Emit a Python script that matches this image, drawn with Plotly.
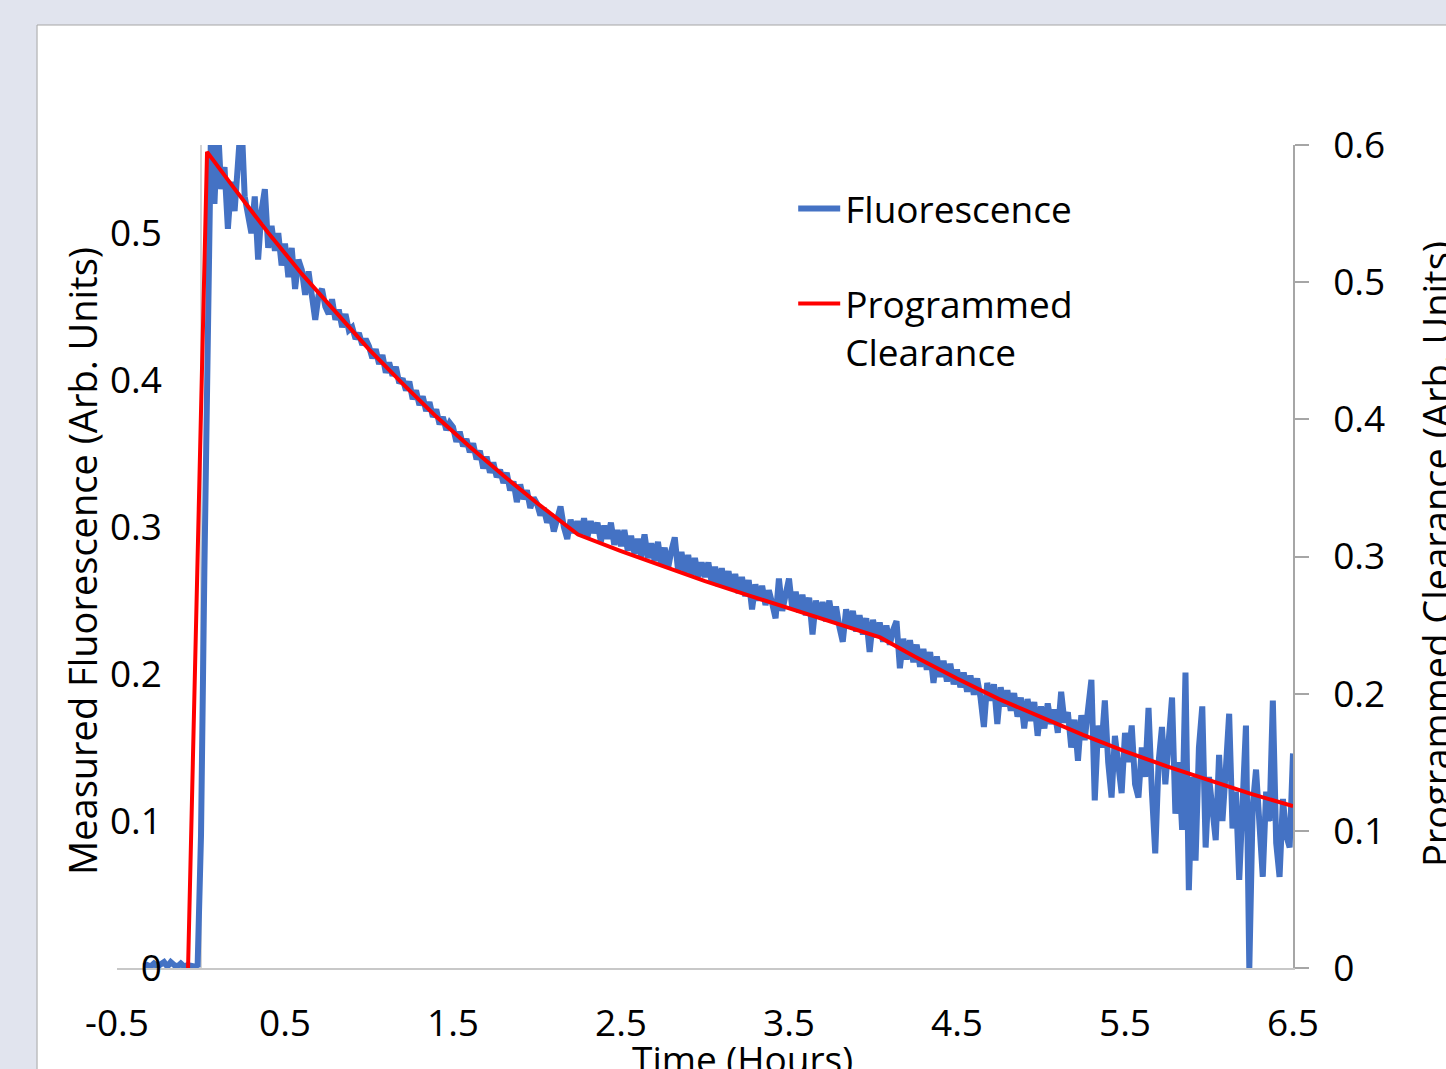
import plotly.graph_objects as go

# ---------------- data ----------------
SAMPLE_STEP_H = 0.02  # instrument sampling interval (hours)

FLUOR_SEGMENT_STARTS = [-0.34, 0.00, 0.50, 1.00, 1.50, 2.00, 2.50, 3.00, 3.50, 4.00, 4.50, 5.00, 5.50, 6.00]

FLUOR_SEG_00 = [0.001, 0.002, 0.001, 0.003, 0.001, 0.002, 0.004, 0.001, 0.004, 0.002, 0.001, 0.003, 0.001,
                0.002, 0.001, 0.001, 0.002]
FLUOR_SEG_01 = [0.09, 0.27, 0.40, 0.575, 0.52, 0.575, 0.53, 0.545, 0.503, 0.535, 0.515, 0.545, 0.58, 0.525,
                0.51, 0.50, 0.525, 0.482, 0.515, 0.53, 0.49, 0.505, 0.488, 0.50, 0.478]
FLUOR_SEG_02 = [0.493, 0.47, 0.49, 0.462, 0.482, 0.475, 0.458, 0.474, 0.46, 0.441, 0.458, 0.462, 0.45, 0.445,
                0.455, 0.441, 0.448, 0.436, 0.445, 0.434, 0.436, 0.428, 0.432, 0.424, 0.428]
FLUOR_SEG_03 = [0.423, 0.415, 0.421, 0.411, 0.417, 0.405, 0.412, 0.403, 0.409, 0.398, 0.401, 0.393, 0.399,
                0.387, 0.393, 0.383, 0.389, 0.379, 0.385, 0.375, 0.380, 0.370, 0.375, 0.366, 0.371]
FLUOR_SEG_04 = [0.368, 0.358, 0.365, 0.355, 0.360, 0.351, 0.357, 0.346, 0.352, 0.340, 0.348, 0.337, 0.344,
                0.334, 0.339, 0.330, 0.337, 0.325, 0.331, 0.317, 0.329, 0.319, 0.325, 0.313, 0.320]
FLUOR_SEG_05 = [0.316, 0.308, 0.313, 0.303, 0.309, 0.297, 0.306, 0.314, 0.300, 0.292, 0.305, 0.296, 0.304,
                0.295, 0.306, 0.293, 0.304, 0.296, 0.303, 0.290, 0.301, 0.292, 0.303, 0.288, 0.298]
FLUOR_SEG_06 = [0.287, 0.298, 0.284, 0.294, 0.282, 0.292, 0.280, 0.295, 0.279, 0.289, 0.277, 0.290, 0.274,
                0.286, 0.272, 0.284, 0.293, 0.270, 0.283, 0.269, 0.281, 0.267, 0.279, 0.266, 0.276]
FLUOR_SEG_07 = [0.266, 0.276, 0.262, 0.273, 0.260, 0.272, 0.259, 0.270, 0.257, 0.268, 0.255, 0.266, 0.253,
                0.264, 0.244, 0.261, 0.250, 0.260, 0.247, 0.257, 0.248, 0.238, 0.265, 0.243, 0.254]
FLUOR_SEG_08 = [0.265, 0.244, 0.256, 0.242, 0.254, 0.240, 0.252, 0.227, 0.250, 0.238, 0.249, 0.236, 0.250,
                0.235, 0.246, 0.232, 0.222, 0.244, 0.232, 0.243, 0.229, 0.240, 0.227, 0.238, 0.215]
FLUOR_SEG_09 = [0.237, 0.225, 0.235, 0.222, 0.233, 0.220, 0.230, 0.236, 0.204, 0.224, 0.210, 0.223, 0.208,
                0.220, 0.205, 0.217, 0.203, 0.215, 0.194, 0.212, 0.198, 0.209, 0.195, 0.207, 0.193]
FLUOR_SEG_10 = [0.203, 0.191, 0.201, 0.188, 0.199, 0.186, 0.197, 0.184, 0.164, 0.194, 0.182, 0.193, 0.166,
                0.191, 0.178, 0.189, 0.175, 0.187, 0.171, 0.184, 0.163, 0.183, 0.168, 0.181, 0.158]
FLUOR_SEG_11 = [0.178, 0.163, 0.180, 0.166, 0.176, 0.160, 0.188, 0.167, 0.174, 0.150, 0.169, 0.141, 0.172,
                0.155, 0.176, 0.196, 0.114, 0.165, 0.150, 0.182, 0.140, 0.116, 0.158, 0.135, 0.119]
FLUOR_SEG_12 = [0.160, 0.140, 0.165, 0.125, 0.116, 0.150, 0.130, 0.177, 0.120, 0.078, 0.140, 0.164, 0.125,
                0.150, 0.184, 0.105, 0.140, 0.094, 0.201, 0.053, 0.130, 0.073, 0.150, 0.178, 0.082]
FLUOR_SEG_13 = [0.130, 0.110, 0.087, 0.145, 0.100, 0.135, 0.173, 0.095, 0.120, 0.060, 0.125, 0.165, 0.000,
                0.110, 0.135, 0.090, 0.062, 0.120, 0.100, 0.182, 0.085, 0.062, 0.115, 0.090, 0.082, 0.146]

FLUOR_SEGMENTS = [FLUOR_SEG_00, FLUOR_SEG_01, FLUOR_SEG_02, FLUOR_SEG_03, FLUOR_SEG_04, FLUOR_SEG_05,
                  FLUOR_SEG_06, FLUOR_SEG_07, FLUOR_SEG_08, FLUOR_SEG_09, FLUOR_SEG_10, FLUOR_SEG_11,
                  FLUOR_SEG_12, FLUOR_SEG_13]

PROG_TIME = [-0.077, 0.036, 0.2, 0.4, 0.6, 0.8, 1.0, 1.2, 1.4, 1.6, 1.8, 2.0, 2.244, 2.5, 2.75, 3.0, 3.25,
             3.5, 3.75, 4.042, 4.25, 4.5, 4.75, 5.0, 5.25, 5.5, 5.75, 6.0, 6.25, 6.5]
PROG_VALUE = [0.0, 0.595, 0.568, 0.536, 0.506, 0.478, 0.451, 0.426, 0.402, 0.380, 0.359, 0.339, 0.316, 0.304,
              0.293, 0.282, 0.272, 0.262, 0.252, 0.241, 0.227, 0.211, 0.196, 0.183, 0.170, 0.158, 0.147,
              0.137, 0.127, 0.118]

X_TICK_VALUES = [-0.5, 0.5, 1.5, 2.5, 3.5, 4.5, 5.5, 6.5]
X_TICK_LABELS = ["-0.5", "0.5", "1.5", "2.5", "3.5", "4.5", "5.5", "6.5"]
Y_LEFT_TICKS = [0, 0.1, 0.2, 0.3, 0.4, 0.5]
Y_LEFT_LABELS = ["0", "0.1", "0.2", "0.3", "0.4", "0.5"]
Y_RIGHT_TICKS = [0, 0.1, 0.2, 0.3, 0.4, 0.5, 0.6]
Y_RIGHT_LABELS = ["0", "0.1", "0.2", "0.3", "0.4", "0.5", "0.6"]

X_TITLE = "Time (Hours)"
Y_LEFT_TITLE = "Measured Fluorescence (Arb. Units)"
Y_RIGHT_TITLE = "Programmed Clearance (Arb. Units)"

# ---------------- build series ----------------
fluor_time, fluor_value = [], []
for start, seg in zip(FLUOR_SEGMENT_STARTS, FLUOR_SEGMENTS):
    for k, v in enumerate(seg):
        fluor_time.append(round(start + SAMPLE_STEP_H * k, 4))
        fluor_value.append(v)

FONT = "Open Sans, Lato, Liberation Sans, sans-serif"
FS = 37

fig = go.Figure()
fig.add_trace(go.Scatter(
    x=fluor_time, y=fluor_value, mode="lines", name="Fluorescence",
    line=dict(color="#4472c4", width=6), yaxis="y", legendgroup="a",
))
fig.add_trace(go.Scatter(
    x=PROG_TIME, y=PROG_VALUE, mode="lines", name="Programmed<br>Clearance",
    line=dict(color="#ff0000", width=4), yaxis="y2", legendgroup="b",
))

fig.add_shape(type="rect", xref="paper", yref="paper", x0=-0.068, x1=1.5, y0=-0.5, y1=1.1458,
              fillcolor="white", line=dict(color="#a6a6a6", width=1), layer="below")

title_font = dict(family=FONT, size=FS, color="black")
fig.add_annotation(text=X_TITLE, xref="paper", yref="paper", x=0.5323, y=-0.1094,
                   xanchor="center", yanchor="middle", showarrow=False, font=title_font)
fig.add_annotation(text=Y_LEFT_TITLE, xref="paper", yref="paper", x=-0.0298, y=0.4945,
                   xanchor="center", yanchor="middle", textangle=-90, showarrow=False,
                   font=dict(family=FONT, size=38, color="black"))
fig.add_annotation(text=Y_RIGHT_TITLE, xref="paper", yref="paper", x=1.1216, y=0.503,
                   xanchor="center", yanchor="middle", textangle=-90, showarrow=False,
                   font=dict(family=FONT, size=38, color="black"))

fig.update_layout(
    width=1446, height=1069,
    margin=dict(l=117, r=153, t=145, b=101, autoexpand=False),
    paper_bgcolor="#e1e4ee", plot_bgcolor="white",
    font=dict(family=FONT, size=FS, color="black"),
    showlegend=True,
    legend=dict(x=0.575, y=0.96, xanchor="left", yanchor="top", bgcolor="rgba(0,0,0,0)",
                font=dict(size=FS), tracegroupgap=44, valign="top", itemwidth=42),
    xaxis=dict(
        range=[-0.5, 6.5], tickvals=X_TICK_VALUES, ticktext=X_TICK_LABELS, automargin=False,
        showgrid=False, showline=True, linecolor="#c8c8c8", linewidth=2,
        zeroline=True, zerolinecolor="#d4d4d4", zerolinewidth=1.5,
        ticks="", ticklabelstandoff=22,
    ),
    yaxis=dict(
        range=[0, 0.56], tickvals=Y_LEFT_TICKS, ticktext=Y_LEFT_LABELS, automargin=False,
        showgrid=False, showline=False, zeroline=False, ticks="",
        ticklabelstandoff=-46,
    ),
    yaxis2=dict(
        range=[0, 0.6], tickvals=Y_RIGHT_TICKS, ticktext=Y_RIGHT_LABELS, automargin=False,
        overlaying="y", side="right", anchor="x",
        showgrid=False, showline=True, linecolor="#a6a6a6", linewidth=1.5, zeroline=False,
        ticks="outside", ticklen=14, tickcolor="#a6a6a6", tickwidth=1.5,
        ticklabelstandoff=17,
    ),
)

fig.write_html("out.html")
